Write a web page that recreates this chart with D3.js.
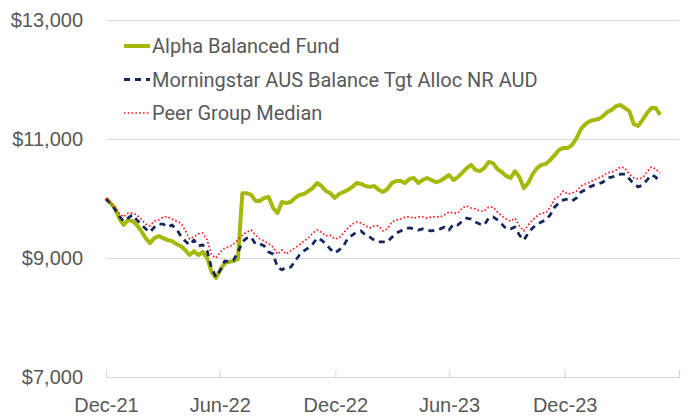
<!DOCTYPE html>
<html>
<head>
<meta charset="utf-8">
<script src="https://cdn.jsdelivr.net/npm/d3@7"></script>
<style>
  body { margin: 0; background: #fff; }
  svg { font-family: Roboto, 'Noto Sans', sans-serif; }
</style>
</head>
<body>
<svg width="691" height="419"></svg>
<script>
// weekly closes, growth of $10,000
const weeks = d3.timeFriday.range(new Date(2021, 11, 31), new Date(2024, 5, 1))

const alpha = [
  10000, 9925, 9840, 9670, 9555, 9640, 9620, 9555, 9455, 9335,
  9250, 9335, 9370, 9335, 9300, 9285, 9235, 9200, 9135, 9050,
  9115, 9050, 9100, 9000, 8765, 8665, 8800, 8915, 8935, 8950,
  8985, 10090, 10090, 10060, 9960, 9960, 10010, 10025, 9840, 9755,
  9940, 9925, 9940, 10010, 10060, 10075, 10125, 10175, 10260, 10210,
  10125, 10090, 10010, 10075, 10110, 10145, 10195, 10260, 10245, 10210,
  10195, 10210, 10145, 10110, 10160, 10260, 10295, 10295, 10260, 10330,
  10345, 10260, 10310, 10345, 10310, 10275, 10295, 10345, 10395, 10310,
  10360, 10430, 10510, 10565, 10480, 10460, 10510, 10615, 10595, 10495,
  10445, 10380, 10345, 10460, 10360, 10175, 10260, 10410, 10510, 10565,
  10580, 10645, 10730, 10815, 10850, 10850, 10900, 11015, 11170, 11250,
  11300, 11320, 11335, 11385, 11455, 11490, 11555, 11570, 11520, 11470,
  11250, 11220, 11320, 11435, 11520, 11520, 11405
]

const morningstar = [
  10000, 9910, 9825, 9705, 9620, 9670, 9725, 9640, 9570, 9490,
  9435, 9520, 9570, 9570, 9520, 9555, 9490, 9370, 9285, 9220,
  9300, 9200, 9220, 9120, 8830, 8680, 8800, 8950, 8935, 8965,
  9100, 9270, 9335, 9350, 9235, 9235, 9200, 9100, 9065, 8845,
  8800, 8845, 8845, 8950, 9050, 9120, 9170, 9235, 9335, 9300,
  9235, 9150, 9085, 9135, 9200, 9335, 9385, 9435, 9455, 9385,
  9350, 9300, 9270, 9270, 9270, 9350, 9420, 9455, 9490, 9505,
  9490, 9470, 9490, 9470, 9455, 9470, 9490, 9520, 9470, 9570,
  9555, 9620, 9670, 9655, 9605, 9570, 9555, 9670, 9690, 9640,
  9570, 9490, 9490, 9520, 9385, 9300, 9420, 9505, 9570, 9605,
  9640, 9725, 9855, 9925, 9975, 9990, 9960, 10010, 10110, 10145,
  10195, 10225, 10245, 10275, 10345, 10360, 10380, 10410, 10410, 10330,
  10245, 10195, 10225, 10310, 10395, 10360, 10260
]

const peer = [
  10000, 9925, 9855, 9755, 9690, 9755, 9755, 9725, 9655, 9570,
  9540, 9620, 9640, 9690, 9690, 9655, 9620, 9590, 9470, 9320,
  9355, 9405, 9420, 9305, 9050, 9000, 9100, 9170, 9185, 9235,
  9305, 9385, 9435, 9470, 9385, 9320, 9285, 9235, 9185, 9065,
  9135, 9065, 9120, 9170, 9220, 9285, 9335, 9420, 9470, 9435,
  9370, 9385, 9320, 9335, 9420, 9505, 9570, 9605, 9590, 9540,
  9505, 9540, 9540, 9455, 9490, 9605, 9640, 9655, 9690, 9690,
  9670, 9690, 9690, 9670, 9690, 9690, 9690, 9725, 9775, 9755,
  9755, 9840, 9875, 9840, 9825, 9790, 9790, 9855, 9855, 9775,
  9705, 9655, 9620, 9670, 9540, 9455, 9555, 9640, 9705, 9755,
  9755, 9855, 9990, 10040, 10125, 10075, 10090, 10125, 10210, 10245,
  10275, 10310, 10345, 10380, 10430, 10445, 10480, 10530, 10510, 10410,
  10345, 10330, 10345, 10445, 10530, 10495, 10430
]

const seriesNames = ['Alpha Balanced Fund', 'Morningstar AUS Balance Tgt Alloc NR AUD', 'Peer Group Median']
const yTicks = [7000, 9000, 11000, 13000]
const xTicks = [new Date(2021, 11, 31), new Date(2022, 5, 30), new Date(2022, 11, 31),
  new Date(2023, 5, 30), new Date(2023, 11, 31), new Date(2024, 5, 30)]
const xTickLabels = ['Dec-21', 'Jun-22', 'Dec-22', 'Jun-23', 'Dec-23', '']

const svg = d3.select('svg')
const plotLeft = 106
const plotRight = 679
const plotTop = 20
const plotBottom = 377
const grey = '#595959'
const fontSize = '20px'

const x = d3.scaleTime()
  .domain([xTicks[0], xTicks[xTicks.length - 1]])
  .range([plotLeft, plotRight])

const y = d3.scaleLinear()
  .domain([7000, 13000])
  .range([plotBottom, plotTop])

// gridlines + y labels
const yAxis = d3.axisLeft(y)
  .tickValues(yTicks)
  .tickSize(-(plotRight - plotLeft))
  .tickPadding(23)
  .tickFormat(d3.format('$,'))

svg.append('g')
  .attr('transform', 'translate(' + plotLeft + ',0)')
  .call(yAxis)
  .call(g => g.select('.domain').remove())
  .call(g => g.selectAll('line').attr('stroke', '#d9d9d9').attr('stroke-width', 1.2))
  .call(g => g.selectAll('text').attr('fill', grey).style('font-size', fontSize))

// x axis: small upward ticks
const xAxis = d3.axisBottom(x)
  .tickValues(xTicks)
  .tickSize(-7)
  .tickPadding(21)
  .tickFormat((d, i) => xTickLabels[i])

svg.append('g')
  .attr('transform', 'translate(0,' + plotBottom + ')')
  .call(xAxis)
  .call(g => g.select('.domain').attr('stroke', '#d9d9d9').attr('stroke-width', 1.2))
  .call(g => g.selectAll('line').attr('stroke', '#d9d9d9').attr('stroke-width', 1.2))
  .call(g => g.selectAll('text').attr('fill', grey).style('font-size', fontSize))

const styles = [
  { color: '#a6b808', width: 4, dash: null },
  { color: '#15275c', width: 2.8, dash: '6,5' },
  { color: '#ff1a1a', width: 1.7, dash: '1.6,2.2' }
]

const line = d3.line()
  .x((d, i) => x(weeks[i]))
  .y(d => y(d))

const allSeries = [alpha, morningstar, peer]
allSeries.forEach(function (values, k) {
  svg.append('path')
    .datum(values)
    .attr('d', line)
    .attr('fill', 'none')
    .attr('stroke', styles[k].color)
    .attr('stroke-width', styles[k].width)
    .attr('stroke-dasharray', styles[k].dash)
    .attr('stroke-linejoin', 'round')
})

// legend
const legend = svg.append('g')
seriesNames.forEach(function (name, k) {
  const ly = 46 + k * 33.5
  legend.append('line')
    .attr('x1', 124).attr('x2', 150)
    .attr('y1', ly).attr('y2', ly)
    .attr('stroke', styles[k].color)
    .attr('stroke-width', styles[k].width)
    .attr('stroke-dasharray', styles[k].dash)
  legend.append('text')
    .attr('x', 152)
    .attr('y', ly)
    .attr('dy', '0.35em')
    .attr('fill', grey)
    .style('font-size', fontSize)
    .text(name)
})
</script>
</body>
</html>
